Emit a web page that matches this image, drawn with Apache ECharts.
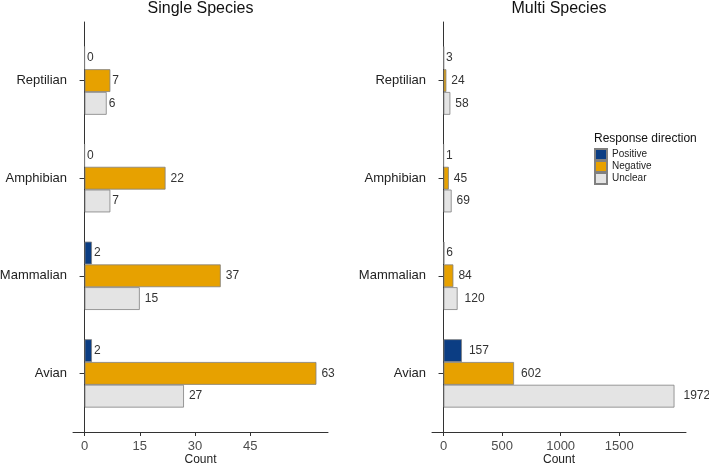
<!DOCTYPE html>
<html>
<head>
<meta charset="utf-8">
<script src="https://cdn.jsdelivr.net/npm/echarts@6/dist/echarts.min.js"></script>
<style>
  html, body { margin: 0; padding: 0; background: #fff; }
  #main { width: 709px; height: 463px; }
</style>
</head>
<body>
<div id="main"></div>
<script>
// categories, bottom to top
var categories = ['Avian', 'Mammalian', 'Amphibian', 'Reptilian'];
var responseNames = ['Positive', 'Negative', 'Unclear'];

var singlePositive = [2, 2, 0, 0];
var singleNegative = [63, 37, 22, 7];
var singleUnclear = [27, 15, 7, 6];

var multiPositive = [157, 6, 1, 3];
var multiNegative = [602, 84, 45, 24];
var multiUnclear = [1972, 120, 69, 58];

var singleTicks = [0, 15, 30, 45];
var multiTicks = [0, 500, 1000, 1500];

var colors = { Positive: '#0b3d83', Negative: '#e7a100', Unclear: '#e4e4e4' };
var FONT = 'Liberation Sans, Arial, sans-serif';

var myChart = echarts.init(document.getElementById('main'));

// label sits a bit right of the bar end, more for longer numbers
function withLabels(arr) {
    return arr.map(function (v) {
        return { value: v, label: { distance: Math.round(2.3 * String(v).length) } };
    });
}

function frameAxes(gridIndex, min, max, ticks) {
    return {
        x: {
            type: 'value', gridIndex: gridIndex, min: min, max: max,
            splitLine: { show: false },
            axisLine: { show: true, lineStyle: { color: '#333', width: 1 } },
            axisTick: { show: true, length: 4, customValues: ticks, lineStyle: { color: '#333' } },
            axisLabel: {
                show: true, customValues: ticks, margin: 8, fontSize: 13, color: '#4d4d4d', fontFamily: FONT,
                formatter: function (v) { return String(v); }
            },
            name: 'Count', nameLocation: 'middle', nameGap: 22, nameMoveOverlap: false,
            nameTextStyle: { fontSize: 12, color: '#222', fontFamily: FONT }
        },
        y: {
            type: 'value', gridIndex: gridIndex, min: 0, max: 1,
            splitLine: { show: false },
            axisLine: { show: true, lineStyle: { color: '#333', width: 1 } },
            axisTick: { show: false }, axisLabel: { show: false }
        }
    };
}

function barAxes(gridIndex, min, max) {
    return {
        x: {
            type: 'value', gridIndex: gridIndex, min: min, max: max,
            show: false, splitLine: { show: false }
        },
        y: {
            type: 'category', gridIndex: gridIndex, data: categories,
            axisLine: { show: false },
            axisTick: { show: true, alignWithLabel: true, length: 5, lineStyle: { color: '#333' } },
            axisLabel: { margin: 6, fontSize: 13, color: '#222', fontFamily: FONT }
        }
    };
}

function makeSeries(axisIndex, pos, neg, unc) {
    var sets = { Positive: pos, Negative: neg, Unclear: unc };
    // first series ends up at the top of each group
    return ['Positive', 'Negative', 'Unclear'].map(function (name) {
        return {
            name: name,
            type: 'bar',
            xAxisIndex: axisIndex,
            yAxisIndex: axisIndex,
            barGap: '0%',
            barCategoryGap: '30%',
            itemStyle: { color: colors[name], borderColor: '#808080', borderWidth: 0.8 },
            label: {
                show: true, position: 'right', formatter: '{c}',
                fontSize: 12, color: '#333', fontFamily: FONT
            },
            data: withLabels(sets[name])
        };
    });
}

var sMin = -3.15, sMax = 66.15;
var mMin = -98.6, mMax = 2070.6;

var f0 = frameAxes(0, sMin, sMax, singleTicks);
var b1 = barAxes(1, sMin, sMax);
var f2 = frameAxes(2, mMin, mMax, multiTicks);
var b3 = barAxes(3, mMin, mMax);

option = {
    backgroundColor: '#fff',
    animation: false,
    title: [
        { text: 'Single Species', left: 195.5, top: -4, textAlign: 'center',
          textStyle: { fontSize: 16, fontWeight: 'normal', color: '#111', fontFamily: FONT } },
        { text: 'Multi Species', left: 554, top: -4, textAlign: 'center',
          textStyle: { fontSize: 16, fontWeight: 'normal', color: '#111', fontFamily: FONT } },
        { text: 'Response direction', left: 589, top: 128,
          textStyle: { fontSize: 12, fontWeight: 'normal', color: '#111', fontFamily: FONT } }
    ],
    legend: {
        data: responseNames,
        orient: 'vertical',
        left: 589, top: 143,
        icon: 'rect',
        itemWidth: 12, itemHeight: 11, itemGap: -1,
        textStyle: { fontSize: 10, lineHeight: 10, color: '#222', fontFamily: FONT },
        selectedMode: false
    },
    grid: [
        { left: 73, width: 255, top: 22, height: 410, outerBoundsMode: 'none' },
        { left: 73, width: 255, top: 31.8, height: 390.4, outerBoundsMode: 'none' },
        { left: 432, width: 254, top: 22, height: 410, outerBoundsMode: 'none' },
        { left: 432, width: 254, top: 31.8, height: 390.4, outerBoundsMode: 'none' }
    ],
    xAxis: [f0.x, b1.x, f2.x, b3.x],
    yAxis: [f0.y, b1.y, f2.y, b3.y],
    series: makeSeries(1, singlePositive, singleNegative, singleUnclear)
        .concat(makeSeries(3, multiPositive, multiNegative, multiUnclear))
};

myChart.setOption(option);
window.addEventListener('resize', function () {
    myChart.resize();
});
</script>
</body>
</html>
